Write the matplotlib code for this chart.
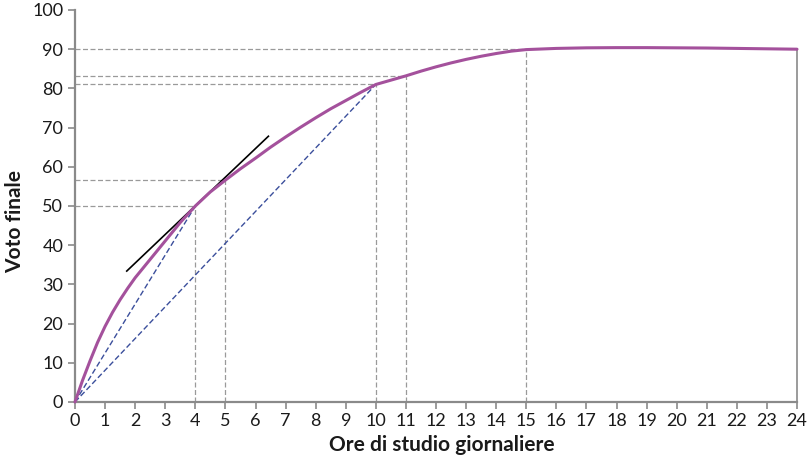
import matplotlib
matplotlib.use('Agg')
import matplotlib.pyplot as plt

# hours of study per day and final grade
hours = [0, 0.25, 0.5, 0.75, 1, 1.25, 1.5, 1.75, 2, 2.5, 3, 3.5, 4, 4.5, 5, 5.5,
         6, 6.5, 7, 7.5, 8, 8.5, 9, 9.5, 10, 10.5, 11, 11.5, 12, 12.5, 13, 13.5,
         14, 14.5, 15, 16, 17, 18, 19, 20, 21, 22, 23, 24]
grade = [0, 5.5, 10.5, 15.2, 19.3, 22.9, 26.1, 29.0, 31.7, 36.4, 41.1, 45.8, 50, 53.6, 56.6, 59.5,
         62.2, 65.0, 67.6, 70.1, 72.5, 74.8, 76.9, 79.0, 81, 82.1, 83.2, 84.4, 85.5, 86.5, 87.4, 88.2,
         88.9, 89.5, 89.9, 90.2, 90.35, 90.4, 90.4, 90.35, 90.3, 90.2, 90.1, 90.0]

# highlighted points (hours, grade)
mark_hours = [4, 5, 10, 11, 15]
mark_grade = [50, 56.6, 81, 83.2, 90]

# rays from the origin (average product)
ray_ends = [(4, 50), (10, 81)]

# tangent at 4 hours
tangent_x = [1.72, 6.43]
tangent_y = [33.4, 67.8]

xticks = list(range(0, 25))
yticks = list(range(0, 101, 10))

plt.rcParams['font.family'] = ['Lato', 'DejaVu Sans']

fig = plt.figure(figsize=(8.10, 4.72), dpi=100)
ax = fig.add_axes([75/810, 70/472, 722/810, 392/472])

grey = '#9a9a9a'
for hx, gy in zip(mark_hours, mark_grade):
    ax.plot([0, hx], [gy, gy], color=grey, lw=0.9, ls=(0, (4, 2)), zorder=1)
    ax.plot([hx, hx], [0, gy], color=grey, lw=0.9, ls=(0, (4, 2)), zorder=1)

# right border at 24 hours
ax.plot([24, 24], [0, 90], color='#8a8a8a', lw=1.2, zorder=1, clip_on=False)

for ex, ey in ray_ends:
    ax.plot([0, ex], [0, ey], color='#3b4f9c', lw=1.0, ls=(0, (4, 2)), zorder=2, clip_on=False)

ax.plot(tangent_x, tangent_y, color='black', lw=1.2, zorder=3)
ax.plot(hours, grade, color='#a4519c', lw=2.2, zorder=4, clip_on=False,
        solid_capstyle='round', solid_joinstyle='round')

ax.set_xlim(0, 24)
ax.set_ylim(0, 100)
ax.set_xticks(xticks)
ax.set_yticks(yticks)

for side in ['top', 'right']:
    ax.spines[side].set_visible(False)
for side in ['left', 'bottom']:
    ax.spines[side].set_color('#8a8a8a')
    ax.spines[side].set_linewidth(1.6)
ax.tick_params(axis='both', colors='#8a8a8a', labelcolor='#1a1a1a',
               labelsize=13, length=5, width=1.2, direction='out')
ax.tick_params(axis='x', pad=3)

fig.text(0.545, 0.058, 'Ore di studio giornaliere', ha='center', va='center',
         fontsize=15, fontweight='bold', color='#1a1a1a')
fig.text(0.019, 0.53, 'Voto finale', ha='center', va='center', rotation=90,
         fontsize=15, fontweight='bold', color='#1a1a1a')

fig.savefig('out.png', dpi=100)
